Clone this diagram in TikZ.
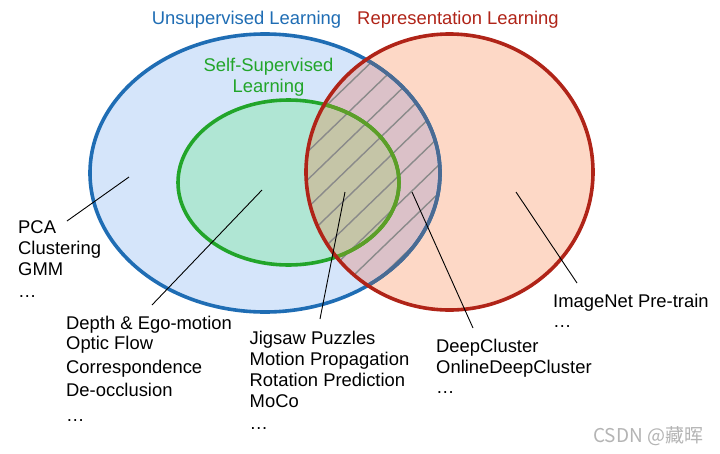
\documentclass[tikz,border=0pt]{standalone}
\usepackage{fontspec}
\setmainfont{Liberation Sans}
\newfontfamily\cjkfont{Noto Sans CJK SC}
\definecolor{ublue}{HTML}{1F6DB4}
\definecolor{ubluefill}{HTML}{D5E5FA}
\definecolor{sgreen}{HTML}{22A52A}
\definecolor{sgreenfill}{HTML}{B0E6D4}
\definecolor{rred}{HTML}{B02418}
\definecolor{rredfill}{HTML}{FDD8C6}
\definecolor{mauve}{HTML}{DBC1C8}
\definecolor{olive}{HTML}{C5C5A7}
\definecolor{slate}{HTML}{4A6B93}
\definecolor{olivegreen}{HTML}{5D9E27}
\definecolor{hatchgray}{HTML}{8A8A8A}
\definecolor{wmgray}{HTML}{B4B4B4}
\begin{document}
\begin{tikzpicture}[x=1pt,y=-1pt,
  border/.style={line width=3.6pt},
  leader/.style={line width=0.9pt,black},
  hatchline/.style={line width=1.4pt,hatchgray},
  tb/.style={inner sep=0pt,align=left,anchor=north west,font=\fontsize{18.4}{21}\selectfont},
  title/.style={inner sep=0pt,font=\fontsize{18.4}{21}\selectfont}]
\useasboundingbox (0,0) rectangle (720,453);
\fill[white] (0,0) rectangle (720,453);
% fills
\fill[ubluefill] (265,173) ellipse [x radius=175, y radius=139];
\fill[sgreenfill] (288.5,182.5) ellipse [x radius=110.5, y radius=82.5];
\fill[rredfill] (449.5,172) ellipse [x radius=143.5, y radius=138];
\begin{scope}
  \clip (449.5,172) ellipse [x radius=143.5, y radius=138];
  \fill[mauve] (265,173) ellipse [x radius=175, y radius=139];
  \fill[olive] (288.5,182.5) ellipse [x radius=110.5, y radius=82.5];
  \clip (265,173) ellipse [x radius=175, y radius=139];
  \foreach \i in {-7,...,9} \draw[hatchline] ({210+29*\i},330) -- ({531+29*\i},20);
\end{scope}
% borders
\draw[border,ublue] (265,173) ellipse [x radius=175, y radius=139];
\draw[border,sgreen] (288.5,182.5) ellipse [x radius=110.5, y radius=82.5];
\begin{scope}
  \clip (449.5,172) ellipse [x radius=143.5, y radius=138];
  \draw[border,slate] (265,173) ellipse [x radius=175, y radius=139];
  \draw[border,olivegreen] (288.5,182.5) ellipse [x radius=110.5, y radius=82.5];
\end{scope}
\draw[border,rred] (449.5,172) ellipse [x radius=143.5, y radius=138];
% titles
\node[title,ublue,anchor=base] (tun) at (246.5,24) {Unsupervised Learning};
\node[title,rred,anchor=base] (trep) at (458,24) {Representation Learning};
\node[title,sgreen,anchor=north,align=center] (tself) at (268.5,58) {Self-Supervised\\Learning};
% text blocks
\node[tb] (pca) at (18,220) {PCA\\Clustering\\GMM\\[1pt]…};
\node[tb] (depth) at (66,316) {Depth \& Ego-motion\\[-1pt]Optic Flow\\[3pt]Correspondence\\[2pt]De-occlusion\\[4pt]…};
\node[tb] (jig) at (249.5,331) {Jigsaw Puzzles\\Motion Propagation\\Rotation Prediction\\MoCo\\[1pt]…};
\node[tb] (deep) at (436,339) {DeepCluster\\OnlineDeepCluster\\[-1pt]…};
\node[tb] (imnet) at (553,294) {ImageNet Pre-train\\[-1pt]…};
\node[inner sep=0pt,anchor=base west,wmgray,font=\cjkfont\fontsize{19}{22}\selectfont] (wm) at (593,442) {CSDN @藏晖};
% leader coordinates
\coordinate (uA) at (129,177);  \coordinate (eA) at (67,221);
\coordinate (uB) at (262,190);  \coordinate (eB) at (152,305);
\coordinate (uC) at (345,192);  \coordinate (eC) at (320,319);
\coordinate (uD) at (412,192);  \coordinate (eD) at (473,328);
\coordinate (uE) at (516,192);  \coordinate (eE) at (577,283);
\draw[leader] (uA) -- (eA);
\draw[leader] (uB) -- (eB);
\draw[leader] (uC) -- (eC);
\draw[leader] (uD) -- (eD);
\draw[leader] (uE) -- (eE);
\end{tikzpicture}
\end{document}
